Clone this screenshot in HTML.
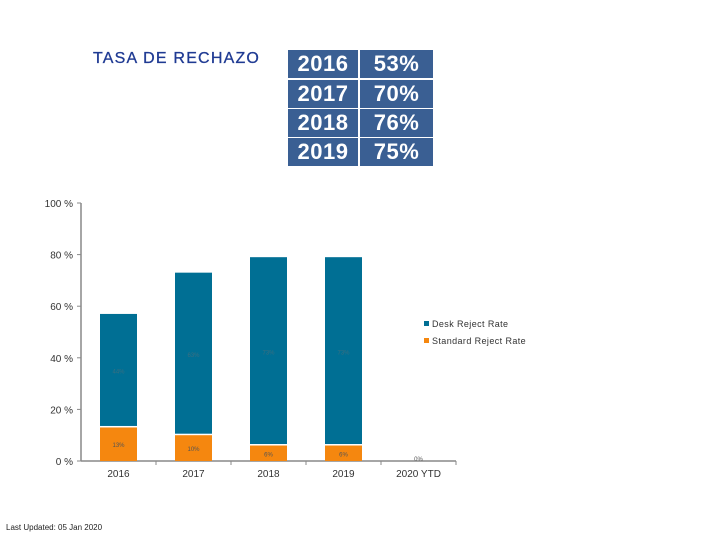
<!DOCTYPE html>
<html><head><meta charset="utf-8"><style>
body{margin:0;width:720px;height:540px;background:#fff;position:relative;overflow:hidden;font-family:"Liberation Sans",sans-serif}
.t{position:absolute;color:#fff;font-family:"Liberation Sans",sans-serif;font-weight:bold;font-size:22px;background:#3a5f93;text-align:center;line-height:28px;height:28px;letter-spacing:0.5px}
</style></head><body>
<div style="position:absolute;left:93px;top:50px;font-size:16px;color:#1f3a93;letter-spacing:1.2px;-webkit-text-stroke:0.3px #1f3a93">TASA DE RECHAZO</div>
<div>
<div class="t" style="left:288px;top:50px;width:70px">2016</div>
<div class="t" style="left:360px;top:50px;width:73px">53%</div>
<div class="t" style="left:288px;top:80px;width:70px">2017</div>
<div class="t" style="left:360px;top:80px;width:73px">70%</div>
<div class="t" style="left:288px;top:109px;width:70px">2018</div>
<div class="t" style="left:360px;top:109px;width:73px">76%</div>
<div class="t" style="left:288px;top:138px;width:70px">2019</div>
<div class="t" style="left:360px;top:138px;width:73px">75%</div>
</div>
<svg id="c" width="720" height="540" style="position:absolute;left:0;top:0"></svg>
<div style="position:absolute;left:6px;top:523px;font-size:8px;color:#222">Last Updated: 05 Jan 2020</div>
<script>
const categories=["2016","2017","2018","2019","2020 YTD"];
const standardRate=[13,10,6,6,0];
const deskRate=[44,63,73,73,0];
const yTicks=[0,20,40,60,80,100];
const NS="http://www.w3.org/2000/svg";
const svg=document.getElementById('c');
const x0=81,x1=456,y0=461,y1=203;
const band=(x1-x0)/categories.length,bw=37;
function y(v){return y0-(v/100)*(y0-y1);}
function xc(i){return x0+band*(i+0.5);}
function mk(t,a,p){const e=document.createElementNS(NS,t);for(const k in a)e.setAttribute(k,a[k]);(p||svg).appendChild(e);return e;}
yTicks.forEach(v=>{
 const t=mk('text',{x:73,y:y(v)+4,'text-anchor':'end','font-size':10,fill:'#333','font-family':'Liberation Sans'});
 t.textContent=v+' %';
 
 
 mk('line',{x1:x0-4,x2:x0,y1:y(v),y2:y(v),stroke:'#888'});
});
mk('line',{x1:x0,x2:x0,y1:y1,y2:y0,stroke:'#888','stroke-width':1.5});
mk('line',{x1:x0,x2:x1,y1:y0,y2:y0,stroke:'#888','stroke-width':1.5});
categories.forEach((c,i)=>{
 mk('line',{x1:x0+band*(i+1),x2:x0+band*(i+1),y1:y0,y2:y0+4,stroke:'#888'});
 const l=mk('text',{x:xc(i),y:477,'text-anchor':'middle','font-size':10,fill:'#333','font-family':'Liberation Sans'});
 l.textContent=c;
 
 
 const s=standardRate[i],d=deskRate[i];
 if(s>0){
  const r=mk('rect',{x:xc(i)-bw/2,y:y(s),width:bw,height:y0-y(s),fill:'#f5870f'});
  
  
 }
 if(d>0){
  const r=mk('rect',{x:xc(i)-bw/2,y:y(s+d),width:bw,height:y(s)-y(s+d)-1.5,fill:'#006f94'});
  
  
  const dl=mk('text',{x:xc(i),y:y(s+d/2)+3,'text-anchor':'middle','font-size':6,fill:'#3a6f80','font-family':'Liberation Sans'});
  dl.textContent=d+'%';
  
  
 }
 const sl=mk('text',{x:xc(i),y:s>0?y(s/2)+3:y0,'text-anchor':'middle','font-size':6,fill:'#555','font-family':'Liberation Sans'});
 sl.textContent=s+'%';
 
 
});
[["Desk Reject Rate","#006f94",327],["Standard Reject Rate","#f5870f",344]].forEach(([n,col,yy])=>{
 const g=mk('g',{});
 
 
 mk('rect',{x:424,y:yy-6,width:5,height:5,fill:col},g);
 const t=mk('text',{x:432,y:yy,'font-size':9,fill:'#333','font-family':'Liberation Sans','letter-spacing':0.4},g);
 t.textContent=n;
});
</script>
</body></html>
